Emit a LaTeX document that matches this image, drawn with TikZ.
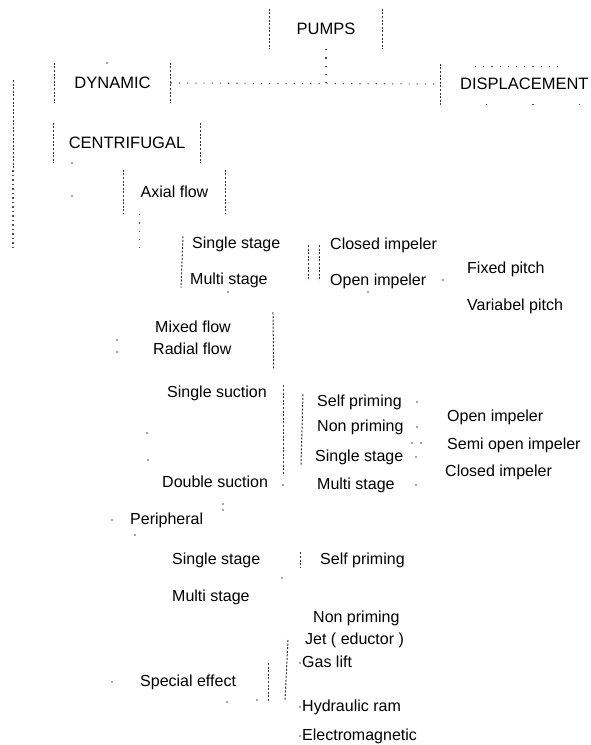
\documentclass[tikz,border=0pt]{standalone}
\usepackage{fontspec}
\setmainfont{Liberation Sans}

\tikzset{
  lbl/.style={anchor=west, inner sep=0pt, text height=11.5pt, text depth=3.5pt},
  box/.style={inner ysep=0pt, minimum height=40pt, text height=11.5pt, text depth=0pt},
  caps/.style={font=\fontsize{16.5}{19}\selectfont},
  bar/.style={draw=black!80, line width=1pt, dash pattern=on 2pt off 1.6pt},
  link/.style={draw=black!70, line width=1.1pt, dash pattern=on 1.2pt off 7pt},
  spot/.style={fill=black!70}
}

\begin{document}
\begin{tikzpicture}[x=1pt, y=-1pt, font=\fontsize{16}{19}\selectfont]
\useasboundingbox[fill=white] (0,0) rectangle (591,745);

% boxed classes
\node[box, caps, inner xsep=27pt] (pumps) at (326,29) {PUMPS};
\node[box, caps, inner xsep=20pt] (dynamic) at (112.5,83) {DYNAMIC};
\node[box, caps, inner xsep=20pt, anchor=west] (displacement) at (440,84) {DISPLACEMENT};
\node[box, caps, inner xsep=15pt] (centrifugal) at (127,143) {CENTRIFUGAL};
\node[box, inner xsep=17pt, minimum height=44pt] (axial) at (174.5,192) {Axial flow};

% axial flow
\node[lbl] (ss1) at (192,244) {Single stage};
\node[lbl] (ms1) at (190,280) {Multi stage};
\node[lbl] (closed1) at (330,245) {Closed impeler};
\node[lbl] (open1) at (330,281) {Open impeler};
\node[lbl] (fixed) at (467,269) {Fixed pitch};
\node[lbl] (variable) at (467,306) {Variabel pitch};

% mixed / radial flow
\node[lbl] (mixed) at (155,328) {Mixed flow};
\node[lbl] (radial) at (153,350) {Radial flow};
\node[lbl] (ssuc) at (167,393) {Single suction};
\node[lbl] (dsuc) at (162,483) {Double suction};
\node[lbl] (selfp1) at (317,402) {Self priming};
\node[lbl] (nonp1) at (317,427) {Non priming};
\node[lbl] (ss2) at (315,457) {Single stage};
\node[lbl] (ms2) at (317,485) {Multi stage};
\node[lbl] (open2) at (447,417) {Open impeler};
\node[lbl] (semi) at (447,445) {Semi open impeler};
\node[lbl] (closed2) at (445,472) {Closed impeler};

% peripheral
\node[lbl] (peripheral) at (130,520) {Peripheral};
\node[lbl] (ss3) at (172,560) {Single stage};
\node[lbl] (selfp2) at (320,560) {Self priming};
\node[lbl] (ms3) at (172,597) {Multi stage};
\node[lbl] (nonp2) at (313,618) {Non priming};

% special effect
\node[lbl] (special) at (140,682) {Special effect};
\node[lbl] (jet) at (305,640) {Jet ( eductor )};
\node[lbl] (gas) at (302,663) {Gas lift};
\node[lbl] (hydraulic) at (302,707) {Hydraulic ram};
\node[lbl] (electro) at (302,736) {Electromagnetic};

% box sides
\foreach \n in {pumps,dynamic,centrifugal,axial}
  \draw[bar] (\n.north west) -- (\n.south west) (\n.north east) -- (\n.south east);
\draw[bar] (displacement.north west) -- (displacement.south west);
\draw[link] ([xshift=35pt,yshift=-3pt]displacement.north west) -- ++(85,0);
\draw[link, dash pattern=on 1.2pt off 45pt] (displacement.south west) -- (displacement.south east);

% top level links
\draw[link] (pumps.south) -- (pumps.south |- dynamic.east);
\draw[link] (dynamic.east) -- (displacement.west);
\coordinate (trunk) at (13,80);
\coordinate (trunkmid) at (13,170);
\coordinate (trunkend) at (13,248);
\draw[bar] (trunk) -- (trunkmid);
\draw[link, dash pattern=on 1.5pt off 3pt] (trunkmid) -- (trunkend);

% brackets
\draw[bar] ([xshift=-9pt]ss1.north west) -- ([xshift=-9pt]ms1.south west);
\draw[bar] ([xshift=-22pt]closed1.west) -- ([xshift=-22pt]open1.west);
\draw[bar] ([xshift=-11pt]closed1.west) -- ([xshift=-11pt]open1.west);
\draw[link] ([xshift=16pt]axial.south west) -- ++(0,36);
\draw[bar] ([shift={(42pt,8pt)}]mixed.north east) -- ([shift={(42pt,-12pt)}]radial.south east);
\draw[bar] ([xshift=16pt]ssuc.north east) -- ([xshift=16pt]ssuc.north east |- dsuc.north);
\draw[bar] ([xshift=-14pt]selfp1.north west) -- ([xshift=-14pt]ss2.south west);
\draw[bar] ([xshift=-20pt]selfp2.north west) -- ([xshift=-20pt]selfp2.south west);
\draw[bar] ([xshift=-17pt]jet.west) -- ([xshift=-17pt,yshift=7pt]hydraulic.west);
\draw[bar] ([xshift=-34pt]gas.west) -- ([xshift=-34pt,yshift=5pt]hydraulic.west);

% stray dots of the scan
\foreach \p in {(107,63),(72,163),(72,196),(228,292),(368,292),(443,280),
    (117,340),(117,352),(147,433),(148,460),(283,485),(417,402),(417,427),
    (412,443),(421,443),(416,457),(416,485),(383,490),(112,520),(135,535),
    (223,504),(223,510),(282,578),(112,682),(227,702),(257,700),
    (300,663),(300,707),(300,736)}
  \fill[spot] \p circle (0.9pt);
\end{tikzpicture}
\end{document}
